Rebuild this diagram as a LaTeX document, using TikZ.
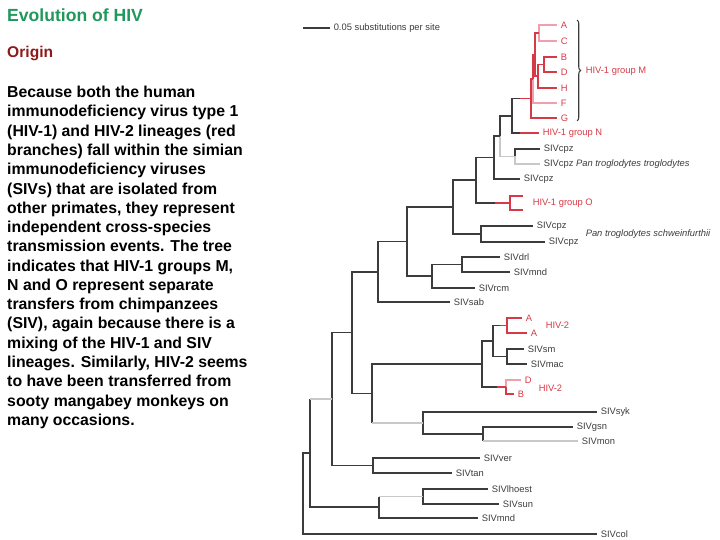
\documentclass[tikz,border=0pt]{standalone}
\usepackage{fontspec}
\setmainfont{Liberation Sans}
\usetikzlibrary{decorations.pathreplacing}

\definecolor{titlegreen}{RGB}{32,152,92}
\definecolor{origred}{RGB}{140,26,26}
\definecolor{hivred}{RGB}{214,58,70}
\definecolor{hivpink}{RGB}{240,160,170}
\definecolor{treegray}{RGB}{60,60,60}
\definecolor{lightbr}{RGB}{200,200,200}

\tikzset{
	br/.style={draw=treegray, line width=0.9pt},
	brlight/.style={draw=lightbr, line width=0.9pt},
	hiv/.style={draw=hivred, line width=0.9pt},
	hivlight/.style={draw=hivpink, line width=0.9pt},
	tip/.style={anchor=west, inner xsep=3pt, inner ysep=1pt, font=\fontsize{8}{9}\selectfont, text=treegray},
	hivtip/.style={tip, text=hivred},
}

\begin{document}
\begin{tikzpicture}[x=0.03cm, y=-0.03cm]
	\useasboundingbox (0,0) rectangle (720,540);
	
	% 左边文字
	\node[anchor=west, inner sep=0pt, text=titlegreen, font=\fontsize{15}{18}\selectfont\bfseries] (title) at (7,15) {Evolution of HIV};
	\node[anchor=west, inner sep=0pt, text=origred, font=\fontsize{13.3}{16}\selectfont\bfseries] (origin) at (7,54) {Origin};
	\node[anchor=north west, inner sep=0pt, align=left, font=\fontsize{13.5}{16.45}\selectfont\bfseries] (body) at (7,86) {Because both the human\\
		immunodeficiency virus type 1\\
		(HIV-1) and HIV-2 lineages (red\\
		branches) fall within the simian\\
		immunodeficiency viruses\\
		(SIVs) that are isolated from\\
		other primates, they represent\\
		independent cross-species\\
		transmission events. The tree\\
		indicates that HIV-1 groups M,\\
		N and O represent separate\\
		transfers from chimpanzees\\
		(SIV), again because there is a\\
		mixing of the HIV-1 and SIV\\
		lineages. Similarly, HIV-2 seems\\
		to have been transferred from\\
		sooty mangabey monkeys on\\
		many occasions.};
	
	% 标尺
	\coordinate (sbL) at (303,28);
	\node[tip] (sb) at (330,28) {0.05 substitutions per site};
	\draw[br] (sbL) -- (sb.west);
	
	% tips
	\node[hivtip] (tA) at (557,25) {A};
	\node[hivtip] (tC) at (557,41) {C};
	\node[hivtip] (tB) at (557,57) {B};
	\node[hivtip] (tD) at (557,72) {D};
	\node[hivtip] (tH) at (557,88) {H};
	\node[hivtip] (tF) at (557,103) {F};
	\node[hivtip] (tG) at (557,118) {G};
	\node[hivtip] (tN) at (539,133) {HIV-1 group N};
	\node[tip] (cpzA) at (540,149) {SIVcpz};
	\node[tip] (cpzB) at (540,164) {SIVcpz \textit{Pan troglodytes troglodytes}};
	\node[tip] (cpzC) at (520,179) {SIVcpz};
	\coordinate (oT1) at (523,196);
	\coordinate (oT2) at (523,210);
	\node[tip] (cpzD) at (533,226) {SIVcpz};
	\node[tip] (cpzE) at (545,242) {SIVcpz};
	\node[tip] (drl) at (500,257) {SIVdrl};
	\node[tip] (mndA) at (510,272) {SIVmnd};
	\node[tip] (rcm) at (475,288) {SIVrcm};
	\node[tip] (sab) at (450,302) {SIVsab};
	\node[hivtip] (hA1) at (522,318) {A};
	\node[hivtip] (hA2) at (527,333) {A};
	\node[tip] (sm) at (524,349) {SIVsm};
	\node[tip] (mac) at (527,364) {SIVmac};
	\node[hivtip] (hD) at (521,380) {D};
	\node[hivtip] (hB) at (514,394) {B};
	\node[tip] (syk) at (597,412) {SIVsyk};
	\node[tip] (gsn) at (573,427) {SIVgsn};
	\node[tip] (mon) at (578,441) {SIVmon};
	\node[tip] (ver) at (480,458) {SIVver};
	\node[tip] (tan) at (452,473) {SIVtan};
	\node[tip] (lhoest) at (488,489) {SIVlhoest};
	\node[tip] (sun) at (499,504) {SIVsun};
	\node[tip] (mndB) at (478,518) {SIVmnd};
	\node[tip] (col) at (597,534) {SIVcol};
	
	% group labels
	\node[hivtip] (labM) at (582,71) {HIV-1 group M};
	\node[hivtip] (labO) at (529,203) {HIV-1 group O};
	\node[tip] (labSchw) at (582,234) {\textit{Pan troglodytes schweinfurthii}};
	\node[hivtip] (lab2a) at (542,325) {HIV-2};
	\node[hivtip] (lab2b) at (535,388) {HIV-2};
	\draw[br, decorate, decoration={brace, amplitude=3pt}] (577,20) -- (577,121);
	
	% inner nodes
	\coordinate (n544) at (544,64.5);
	\coordinate (n539) at (539,33);
	\coordinate (n538) at (538,76);
	\coordinate (n535) at (535,54.5);
	\coordinate (n533) at (533,79);
	\coordinate (n531) at (531,98.5);
	\coordinate (n512) at (512,116);
	\coordinate (n515) at (515,156.5);
	\coordinate (n500) at (500,136);
	\coordinate (n494) at (494,157.5);
	\coordinate (nO) at (510,203);
	\coordinate (n476) at (476,180);
	\coordinate (n481) at (481,234);
	\coordinate (n453) at (453,207);
	\coordinate (n462) at (462,264.5);
	\coordinate (n432) at (432,276);
	\coordinate (n407) at (407,241.5);
	\coordinate (n378) at (378,272);
	\coordinate (nA2) at (507,325.5);
	\coordinate (nSM) at (507,356.5);
	\coordinate (n493) at (493,341);
	\coordinate (nDB) at (506,387);
	\coordinate (n482) at (482,364);
	\coordinate (n483) at (483,434);
	\coordinate (n423) at (423,423);
	\coordinate (n372) at (372,393.5);
	\coordinate (n352) at (352,332.5);
	\coordinate (n373) at (373,465.5);
	\coordinate (n332) at (332,399);
	\coordinate (n423b) at (423,496.5);
	\coordinate (n379) at (379,507);
	\coordinate (n310) at (310,453);
	\coordinate (root) at (303,493.5);
	
	% HIV-1 group M, N
	\draw[hivlight] (n539) |- (tA.west) (n539) |- (tC.west);
	\draw[hiv] (n544) |- (tB.west) (n544) |- (tD.west);
	\draw[hiv] (n538) |- (n544) (n538) |- (tH.west);
	\draw[hiv] (n535) |- (n539) (n535) |- (n538);
	\draw[hiv] (n533) |- (n535);
	\draw[hivlight] (n533) |- (tF.west);
	\draw[hiv] (n531) |- (n533) (n531) |- (tG.west);
	\coordinate (cM) at (520,98.5);
	\coordinate (cN) at (520,133);
	\draw[br] (n512) |- (cM) (n512) |- (cN);
	\draw[hiv] (cM) -- (n531);
	\draw[hiv] (cN) -- (tN.west);
	
	% SIVcpz troglodytes
	\draw[br] (n515) |- (cpzA.west);
	\draw[brlight] (n515) |- (cpzB.west);
	\draw[br] (n500) |- (n512);
	\draw[brlight] (n500) |- (n515);
	\draw[br] (n494) |- (n500) (n494) |- (cpzC.west);
	
	% HIV-1 group O
	\coordinate (cO) at (495,203);
	\draw[hiv] (nO) |- (oT1) (nO) |- (oT2);
	\draw[br] (n476) |- (n494) (n476) |- (cO);
	\draw[hiv] (cO) -- (nO);
	
	% SIVcpz schweinfurthii
	\draw[br] (n481) |- (cpzD.west) (n481) |- (cpzE.west);
	\draw[br] (n453) |- (n476) (n453) |- (n481);
	
	% drl mnd rcm sab
	\draw[br] (n462) |- (drl.west) (n462) |- (mndA.west);
	\draw[br] (n432) |- (n462) (n432) |- (rcm.west);
	\draw[br] (n407) |- (n453) (n407) |- (n432);
	\draw[br] (n378) |- (n407) (n378) |- (sab.west);
	
	% HIV-2
	\coordinate (cA2) at (500,325.5);
	\coordinate (cDB) at (497,387);
	\draw[hiv] (nA2) |- (hA1.west) (nA2) |- (hA2.west);
	\draw[br] (nSM) |- (sm.west) (nSM) |- (mac.west);
	\draw[br] (n493) |- (cA2) (n493) |- (nSM);
	\draw[hiv] (cA2) -- (nA2);
	\draw[hivlight] (nDB) |- (hD.west);
	\draw[hiv] (nDB) |- (hB.west);
	\draw[br] (n482) |- (n493) (n482) |- (cDB);
	\draw[hiv] (cDB) -- (nDB);
	
	% syk gsn mon
	\coordinate (c483) at (483,441);
	\coordinate (c372) at (372,423);
	\draw[br] (n483) |- (gsn.west) (n483) -- (c483);
	\draw[brlight] (c483) -- (mon.west);
	\draw[br] (n423) |- (syk.west) (n423) |- (n483);
	\draw[br] (n372) |- (n482) (n372) -- (c372);
	\draw[brlight] (c372) -- (n423);
	\draw[br] (n352) |- (n378) (n352) |- (n372);
	
	% ver tan
	\draw[br] (n373) |- (ver.west) (n373) |- (tan.west);
	\draw[br] (n332) |- (n352) (n332) |- (n373);
	
	% lhoest sun mnd
	\coordinate (c379) at (379,496.5);
	\coordinate (c310) at (310,399);
	\draw[br] (n423b) |- (lhoest.west) (n423b) |- (sun.west);
	\draw[br] (n379) -- (c379) (n379) |- (mndB.west);
	\draw[brlight] (c379) -- (n423b);
	\draw[br] (n310) -- (c310) (n310) |- (n379);
	\draw[brlight] (c310) -- (n332);
	\draw[br] (root) |- (n310) (root) |- (col.west);
\end{tikzpicture}
\end{document}
